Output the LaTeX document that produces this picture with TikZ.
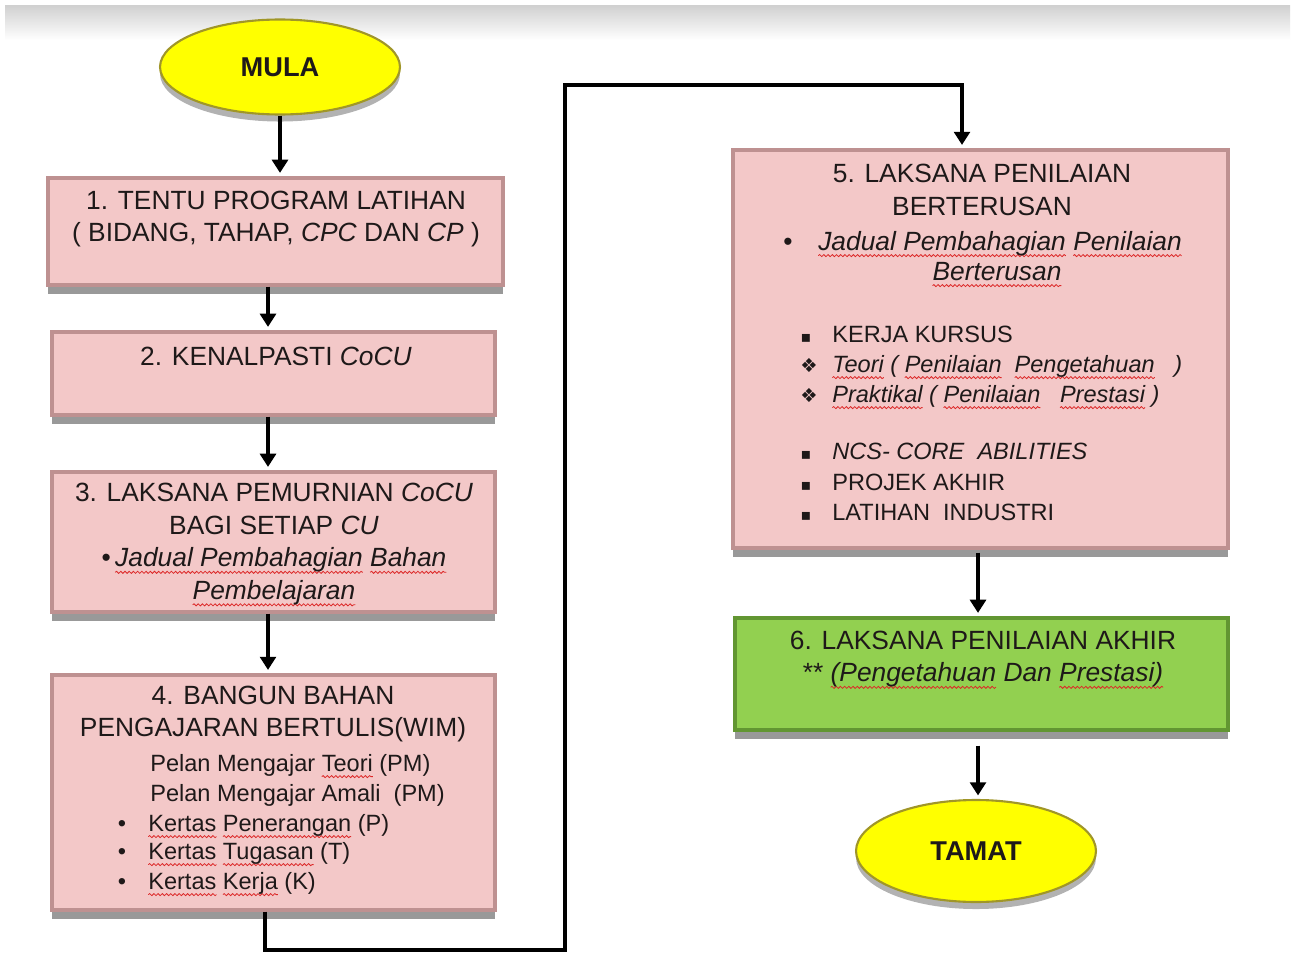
\documentclass[tikz,border=0pt]{standalone}
\usepackage{fontspec}
\setmainfont{Liberation Sans}
\newfontfamily\dejavu{DejaVu Sans}
\usetikzlibrary{arrows.meta,shapes.geometric,shadows,decorations.pathmorphing}
\definecolor{pinkfill}{RGB}{243,200,200}
\definecolor{pinkedge}{RGB}{190,145,145}
\definecolor{greenfill}{RGB}{146,208,80}
\definecolor{greenedge}{RGB}{98,150,50}
\definecolor{yfill}{RGB}{255,255,0}
\definecolor{yedge}{RGB}{160,150,40}
\definecolor{sqred}{RGB}{220,40,40}
\definecolor{txt}{RGB}{30,25,25}
\newsavebox\sqbox
\newcommand\sq[1]{\sbox\sqbox{#1}\rlap{\tikz[baseline=0pt,overlay]\draw[sqred, line width=0.45pt, decorate,
  decoration={snake, amplitude=0.6pt, segment length=2.4pt}] (0pt,-3.2pt) -- (\wd\sqbox,-3.2pt);}\usebox\sqbox}
\newcommand\fbig{\fontsize{15}{18.5}\selectfont}
\newcommand\fsml{\fontsize{13.4}{16.5}\selectfont}
\tikzset{
  pbox/.style={rectangle, inner sep=0pt, fill=pinkfill, draw=pinkedge, line width=1.8pt,
    drop shadow={shadow xshift=0pt, shadow yshift=-5pt, opacity=0.4, fill=black}},
  gbox/.style={pbox, fill=greenfill, draw=greenedge},
  term/.style={ellipse, inner sep=0pt, fill=yfill, draw=yedge, line width=1.2pt,
    font=\fontsize{15.5}{18}\selectfont\bfseries, text=txt,
    drop shadow={shadow xshift=0pt, shadow yshift=-4pt, opacity=0.3, fill=black}},
  arr/.style={line width=2.4pt, -{Triangle[width=9pt,length=7.5pt]}, shorten >=2pt},
  tt/.style={font=\fbig, text=txt, align=center, inner sep=0pt},
  tb/.style={font=\fbig, text=txt, inner sep=0pt, anchor=base},
  ts/.style={font=\fsml, text=txt, inner sep=0pt, anchor=base west},
  bs/.style={font=\fsml, text=txt, inner sep=0pt, anchor=base},
}
\begin{document}
\begin{tikzpicture}[x=0.02cm,y=-0.02cm]
\fill[white] (0,0) rectangle (1295,953);
\useasboundingbox (0,0) rectangle (1295,953);
\shade[top color=black!18, bottom color=white] (5,6) rectangle (1290,40);

% terminals
\node[term, minimum width=4.8cm, minimum height=1.9cm] (mula) at (280,67) {MULA};
\node[term, minimum width=4.8cm, minimum height=2.04cm] (tamat) at (976,851) {TAMAT};

% boxes
\node[pbox, minimum width=9.1cm, minimum height=2.14cm] (b1) at (275.5,231.5) {};
\node[pbox, minimum width=8.86cm, minimum height=1.66cm] (b2) at (273.5,373.5) {};
\node[pbox, minimum width=8.86cm, minimum height=2.8cm] (b3) at (273.5,542) {};
\node[pbox, minimum width=8.86cm, minimum height=4.7cm] (b4) at (273.5,792.5) {};
\node[pbox, minimum width=9.9cm, minimum height=7.96cm] (b5) at (980.5,349) {};
\node[gbox, minimum width=9.86cm, minimum height=2.24cm] (b6) at (981.5,674) {};

% box 1-3 texts
\node[tt] (t1) at (276,219) {1. TENTU PROGRAM LATIHAN\\( BIDANG, TAHAP, \textit{CPC} DAN \textit{CP} )};
\node[tt] (t2) at (276,356) {2. KENALPASTI \textit{CoCU}};
\node[tt] (t3) at (274,544) {3. LAKSANA PEMURNIAN \textit{CoCU}\\BAGI SETIAP \textit{CU}\\%
  •\,{\itshape\sq{Jadual Pembahagian} \sq{Bahan}}\\{\itshape\sq{Pembelajaran}}};

% box 4 texts
\node[tt] (t4) at (273,714) {4. BANGUN BAHAN\\PENGAJARAN BERTULIS(WIM)};
\node[ts] (l41) at (150,771) {Pelan Mengajar \sq{Teori} (PM)};
\node[ts] (l42) at (150,801) {Pelan Mengajar Amali\ \ (PM)};
\node[bs] (k1) at (122,831) {•};
\node[ts] (l43) at (148,831) {\sq{Kertas} \sq{Penerangan} (P)};
\node[bs] (k2) at (122,859) {•};
\node[ts] (l44) at (148,859) {\sq{Kertas} \sq{Tugasan} (T)};
\node[bs] (k3) at (122,889) {•};
\node[ts] (l45) at (148,889) {\sq{Kertas} \sq{Kerja} (K)};

% box 5 texts
\node[tt] (t5) at (982,190) {5. LAKSANA PENILAIAN\\BERTERUSAN};
\node[tb] (k5) at (788,250) {•};
\node[tb] (l51) at (1000,250) {\itshape\sq{Jadual Pembahagian} \sq{Penilaian}};
\node[tb] (l52) at (997,280) {\itshape\sq{Berterusan}};
\node[bs] (q1) at (806,342) {\dejavu\fontsize{9}{10}\selectfont ▪};
\node[ts] (m1) at (832,342) {KERJA KURSUS};
\node[bs] (q2) at (809,372) {\dejavu\fontsize{11}{12}\selectfont ❖};
\node[ts] (m2) at (832,372) {\itshape\sq{Teori} ( \sq{Penilaian}\ \ \sq{Pengetahuan}\ \ \ )};
\node[bs] (q3) at (809,402) {\dejavu\fontsize{11}{12}\selectfont ❖};
\node[ts] (m3) at (832,402) {\itshape\sq{Praktikal} ( \sq{Penilaian}\ \ \ \sq{Prestasi} )};
\node[bs] (q4) at (806,459) {\dejavu\fontsize{9}{10}\selectfont ▪};
\node[ts] (m4) at (832,459) {\itshape NCS- CORE\ \ ABILITIES};
\node[bs] (q5) at (806,490) {\dejavu\fontsize{9}{10}\selectfont ▪};
\node[ts] (m5) at (832,490) {PROJEK AKHIR};
\node[bs] (q6) at (806,520) {\dejavu\fontsize{9}{10}\selectfont ▪};
\node[ts] (m6) at (832,520) {LATIHAN\ \ INDUSTRI};

% box 6 text
\node[tt] (t6) at (983,659) {6. LAKSANA PENILAIAN AKHIR\\** {\itshape\sq{(Pengetahuan} Dan \sq{Prestasi)}}};

% connectors
\coordinate (ax) at (268,0);
\coordinate (rx) at (978,0);
\draw[arr] (mula.south) -- (b1.north -| mula.south);
\draw[arr] (b1.south -| ax) -- (b2.north -| ax);
\draw[arr] (b2.south -| ax) -- (b3.north -| ax);
\draw[arr] (b3.south -| ax) -- (b4.north -| ax);
\coordinate (c1) at (265,950);
\coordinate (c2) at (565,950);
\coordinate (c3) at (565,85);
\coordinate (c4) at (962,85);
\draw[arr] (b4.south -| c1) -- (c1) -- (c2) -- (c3) -- (c4) -- (b5.north -| c4);
\draw[arr] (b5.south -| rx) ++(0,3) -- (b6.north -| rx);
\draw[arr] (b6.south -| rx) ++(0,14) -- (tamat.north -| rx);
\end{tikzpicture}
\end{document}
